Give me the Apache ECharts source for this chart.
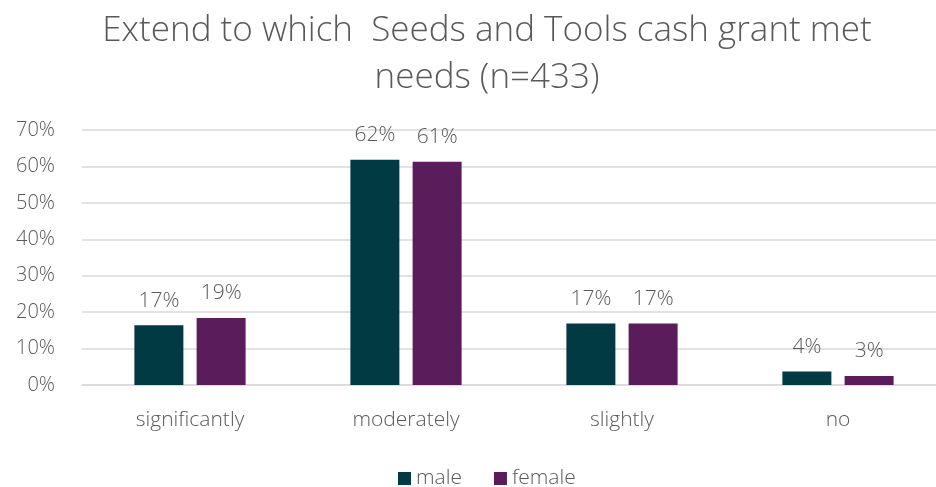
<!DOCTYPE html>
<html><head><meta charset="utf-8">
<script src="https://cdn.jsdelivr.net/npm/echarts@6/dist/echarts.min.js"></script>
<style>html,body{margin:0;padding:0;background:#fff}#c{width:936px;height:487px}</style>
</head><body><div id="c"></div>
<script>
const categories = ['significantly', 'moderately', 'slightly', 'no'];
const maleValues = [16.4, 61.8, 16.9, 3.7];
const femaleValues = [18.4, 61.3, 16.9, 2.5];
const maleLabels = ['17%', '62%', '17%', '4%'];
const femaleLabels = ['19%', '61%', '17%', '3%'];
const yTicks = [0, 10, 20, 30, 40, 50, 60, 70];

const font = 'Open Sans';
const grey = '#595959';
const chart = echarts.init(document.getElementById('c'));
chart.setOption({
  animation: false,
  title: {
    text: 'Extend to which  Seeds and Tools cash grant met\nneeds (n=433)',
    left: 482, textAlign: 'center', top: 3,
    textStyle: { fontFamily: font, fontWeight: 300, fontSize: 35, color: grey, lineHeight: 47 }
  },
  legend: {
    top: 463, left: 393, itemWidth: 13, itemHeight: 13, itemGap: 32,
    icon: 'rect',
    textStyle: { fontFamily: font, fontWeight: 300, fontSize: 21, color: grey }
  },
  grid: { left: 82, width: 864, top: 130, height: 255, outerBoundsMode: 'none', containLabel: false },
  xAxis: {
    type: 'category', data: categories,
    axisLine: { show: true, lineStyle: { color: '#d9d9d9', width: 1.5 } },
    axisTick: { show: false },
    axisLabel: { fontFamily: font, fontWeight: 300, fontSize: 21, color: grey, margin: 25 }
  },
  yAxis: {
    type: 'value', min: yTicks[0], max: yTicks[yTicks.length - 1], interval: 10,
    axisLabel: { formatter: v => v + '%', fontFamily: font, fontWeight: 300, fontSize: 20, color: grey, margin: 27 },
    splitLine: { lineStyle: { color: '#d9d9d9', width: 1.5 } },
    axisLine: { show: false }, axisTick: { show: false }
  },
  series: [
    { name: 'male', type: 'bar', data: maleValues, barWidth: 49, barGap: '27%',
      itemStyle: { color: '#023a44' },
      label: { show: true, position: 'top', distance: 14, formatter: p => maleLabels[p.dataIndex],
        fontFamily: font, fontWeight: 300, fontSize: 21, color: grey } },
    { name: 'female', type: 'bar', data: femaleValues, barWidth: 49,
      itemStyle: { color: '#5a1c5b' },
      label: { show: true, position: 'top', distance: 14, formatter: p => femaleLabels[p.dataIndex],
        fontFamily: font, fontWeight: 300, fontSize: 21, color: grey } }
  ]
});
</script></body></html>
